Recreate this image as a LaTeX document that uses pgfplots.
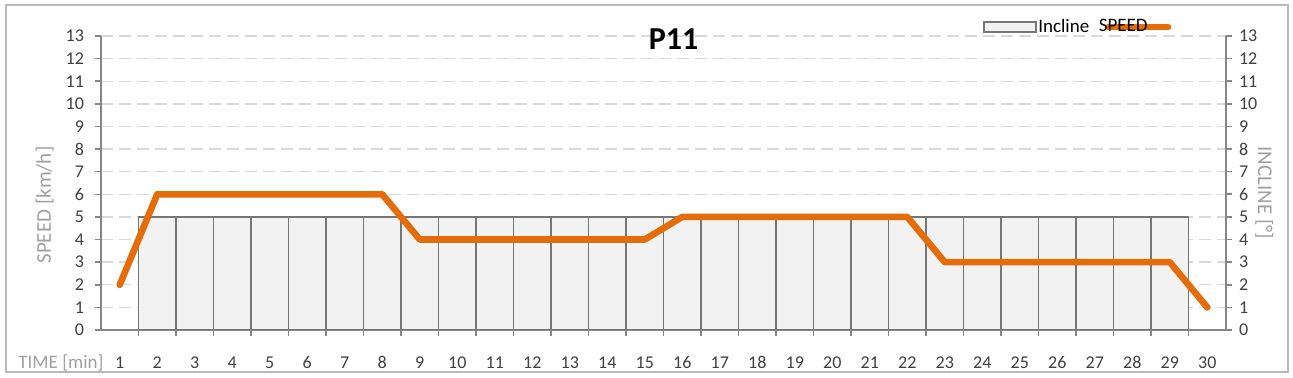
\documentclass[border=0pt]{standalone}
\usepackage{fontspec}
\setmainfont{Carlito}
\usepackage{pgfplots}
\pgfplotsset{compat=1.18}
\definecolor{spd}{RGB}{228,108,10}
\definecolor{gridc}{RGB}{217,217,217}
\definecolor{axc}{RGB}{134,134,134}
\definecolor{barc}{RGB}{242,242,242}
\definecolor{bare}{RGB}{118,118,118}
\definecolor{tickc}{RGB}{64,64,64}
\definecolor{labc}{RGB}{160,160,160}
\begin{document}
\begin{tikzpicture}
\useasboundingbox (-50.5pt,-24pt) rectangle (596pt,165pt);
\draw[draw=gray!55, line width=0.8pt] (-47.5pt,-21pt) rectangle (593.5pt,162.5pt);
\begin{axis}[
  scale only axis, width=562.5pt, height=147pt,
  at={(0pt,0pt)}, anchor=south west,
  xmin=0.5, xmax=30.5, ymin=0, ymax=13,
  axis x line*=bottom, axis y line*=left,
  axis line style={axc, line width=0.8pt},
  xtick={1,...,30},
  minor xtick={1.5,2.5,...,29.5},
  major x tick style={draw=none},
  minor x tick style={axc, line width=0.8pt},
  minor tick length=3pt, major tick length=3pt,
  tick align=outside,
  ytick={0,...,13},
  y tick style={axc, line width=0.8pt},
  ymajorgrids,
  grid style={gridc, dash pattern=on 6pt off 3pt, line width=0.7pt},
  /pgf/number format/assume math mode=true,
  tick label style={font=\fontsize{9}{10}\selectfont, text=tickc},
  xticklabel style={anchor=base, yshift=-16.5pt},
  yticklabel style={xshift=-2pt},
  ylabel={SPEED [km/h]},
  ylabel style={font=\fontsize{10.5}{12}\selectfont, text=labc, anchor=center, at={(axis description cs:-0.05,0.425)}},
  legend columns=2,
  legend style={draw=none, fill=none, font=\fontsize{9.5}{11}\selectfont,
    inner sep=0pt, nodes={inner sep=0.75pt}, column sep=0pt,
    at={(axis description cs:0.784,1.03)}, anchor=west},
]
\addplot[ybar, bar width=1, fill=barc, draw=bare, line width=0.7pt,
  legend image code/.code={\draw[fill=barc, draw=bare, line width=0.7pt] (0pt,-2.5pt) rectangle (26pt,2.5pt);}]
  coordinates {(2,5) (3,5) (4,5) (5,5) (6,5) (7,5) (8,5) (9,5) (10,5) (11,5) (12,5) (13,5) (14,5) (15,5)
  (16,5) (17,5) (18,5) (19,5) (20,5) (21,5) (22,5) (23,5) (24,5) (25,5) (26,5) (27,5) (28,5) (29,5)};
\addlegendentry{Incline}
\addplot[spd, line width=3.3pt, line join=round, line cap=round,
  legend image code/.code={\draw[overlay, spd, line width=3.3pt] (7pt,0pt) -- (37pt,0pt); \path (0pt,0pt);}]
  coordinates {(1,2) (2,6) (3,6) (4,6) (5,6) (6,6) (7,6) (8,6) (9,4) (10,4) (11,4) (12,4) (13,4) (14,4) (15,4)
  (16,5) (17,5) (18,5) (19,5) (20,5) (21,5) (22,5) (23,3) (24,3) (25,3) (26,3) (27,3) (28,3) (29,3) (30,1)};
\addlegendentry{SPEED}
\end{axis}
\begin{axis}[
  scale only axis, width=562.5pt, height=147pt,
  at={(0pt,0pt)}, anchor=south west,
  xmin=0.5, xmax=30.5, ymin=0, ymax=13,
  axis x line=none, axis y line*=right,
  axis line style={axc, line width=0.8pt},
  ytick={0,...,13},
  y tick style={axc, line width=0.8pt},
  tick align=outside, major tick length=3pt,
  /pgf/number format/assume math mode=true,
  tick label style={font=\fontsize{9}{10}\selectfont, text=tickc},
  ylabel={INCLINE [°]},
  ylabel style={font=\fontsize{10.5}{12}\selectfont, text=labc, rotate=180, anchor=center, at={(axis description cs:1.034,0.466)}},
]
\end{axis}
\node[font=\bfseries\fontsize{16}{18}\selectfont, inner sep=0pt] at (286.3pt,145.5pt) {P11};
\node[font=\fontsize{9.5}{11}\selectfont, text=labc, anchor=base west, inner sep=0pt] at (-41.5pt,-19.5pt) {TIME [min]};
\end{tikzpicture}
\end{document}
